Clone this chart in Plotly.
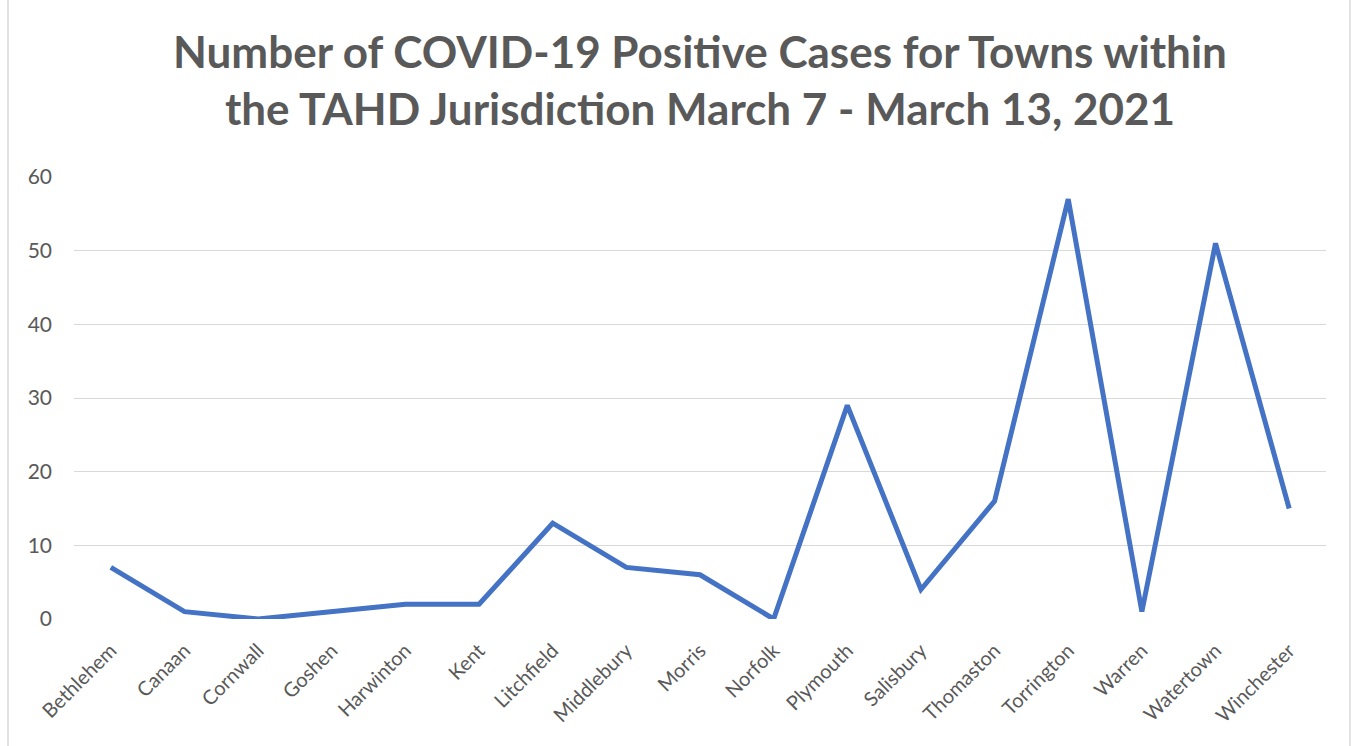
import plotly.graph_objects as go

towns = ["Bethlehem", "Canaan", "Cornwall", "Goshen", "Harwinton", "Kent", "Litchfield",
         "Middlebury", "Morris", "Norfolk", "Plymouth", "Salisbury", "Thomaston",
         "Torrington", "Warren", "Watertown", "Winchester"]
cases = [7, 1, 0, 1, 2, 2, 13, 7, 6, 0, 29, 4, 16, 57, 1, 51, 15]
y_ticks = [0, 10, 20, 30, 40, 50, 60]

W, H = 1356, 746
ml, mr, mt, mb = 74, 30, 177, 127

fig = go.Figure(go.Scatter(
    x=towns, y=cases, mode="lines",
    line=dict(color="#4472C4", width=5),
    hoverinfo="x+y",
))

fig.update_layout(
    width=W, height=H,
    margin=dict(l=ml, r=mr, t=mt, b=mb),
    paper_bgcolor="white", plot_bgcolor="white",
    font=dict(family="Lato, Open Sans, sans-serif", color="#595959", size=20),
    title=dict(
        text="Number of COVID-19 Positive Cases for Towns within<br>the TAHD Jurisdiction March 7 - March 13, 2021",
        x=0.5, xref="paper", xanchor="center",
        y=1 - 68 / H, yref="container", yanchor="middle",
        font=dict(family="Lato, Open Sans, sans-serif", size=44, color="#595959", weight="bold"),
    ),
    showlegend=False,
    xaxis=dict(
        type="category", range=[-0.5, len(towns) - 0.5],
        tickangle=-45, showgrid=False, showline=False, zeroline=False,
        ticks="", ticklabelstandoff=15, tickfont=dict(size=20, color="#595959"),
    ),
    yaxis=dict(
        range=[0, 60], tickvals=y_ticks, showgrid=True, gridcolor="#D9D9D9", gridwidth=1.3,
        zeroline=False, showline=False, ticks="", ticklabelstandoff=21,
        tickfont=dict(size=21, color="#595959"),
    ),
    shapes=[dict(
        type="rect", xref="paper", yref="paper",
        x0=(8 - ml) / (W - ml - mr), x1=(1350 - ml) / (W - ml - mr),
        y0=(mb - 760) / (H - mt - mb), y1=(H - mb + 20) / (H - mt - mb),
        line=dict(color="#D9D9D9", width=1.5), fillcolor="rgba(0,0,0,0)", layer="below",
    )],
)

fig.write_html(
    "out.html",
    config={"displayModeBar": False},
    post_script="document.body.style.margin='0';document.body.style.overflow='hidden';",
)
